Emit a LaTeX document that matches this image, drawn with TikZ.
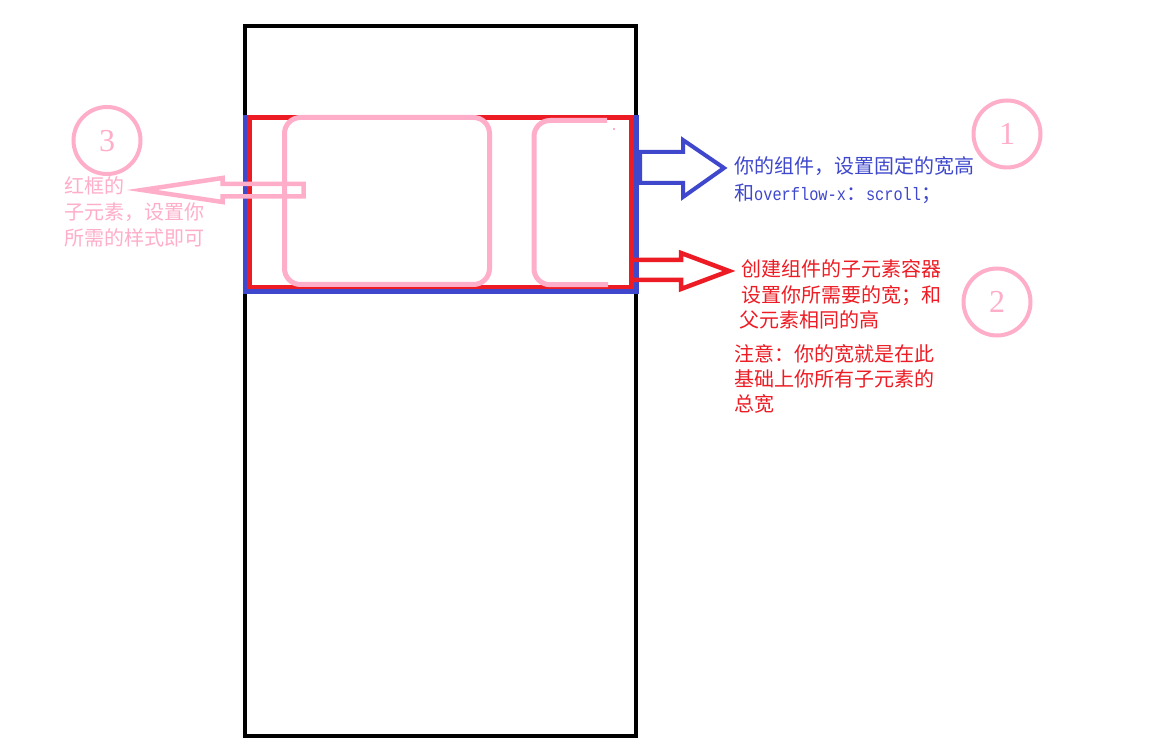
\documentclass[tikz,border=0pt]{standalone}
\usepackage{fontspec}
\newfontfamily\cjk{Noto Sans CJK SC}
\newfontfamily\monof[FakeStretch=0.85]{Liberation Mono}
\newfontfamily\numf{Liberation Serif}
\definecolor{pblue}{HTML}{3F48CC}
\definecolor{pred}{HTML}{ED1C24}
\definecolor{ppink}{HTML}{FFAEC9}
\tikzset{
  txt/.style={anchor=west, inner sep=0pt, font=\cjk\fontsize{20}{24}\selectfont, text height=17.6pt, text depth=2.4pt},
  numcirc/.style={circle, draw=ppink, line width=4pt, minimum size=67pt, inner sep=0pt, text=ppink,
    font=\numf\fontsize{32}{32}\selectfont, text height=21.6pt, text depth=0pt},
  pinkbox/.style={draw=ppink, line width=5pt, rounded corners=16pt},
}
\begin{document}
\begin{tikzpicture}[x=1pt,y=-1pt]
\useasboundingbox (0,0) rectangle (1163,751);
\fill[white] (0,0) rectangle (1163,751);
% screen
\draw[black, line width=4pt] (245,26) rectangle (636,736);
% component (blue) and child container (red)
\draw[pblue, line width=5pt] (245,117.5) rectangle (636,291.5);
\draw[pred, line width=4.5pt] (249.5,117.5) rectangle (631.5,287);
% child elements
\draw[pinkbox] (284.5,117.5) rectangle (489.5,284.5);
\draw[pinkbox] (607,120.5) -- (534,120.5) -- (534,284.7) -- (608,284.7);
\fill[ppink] (612.5,128) rectangle (614.5,130.5);
% arrows
\draw[pblue, line width=4pt, line join=miter] (640,152) -- (683,152) -- (683,140) -- (724,168) -- (683,197) -- (683,183) -- (640,183) -- cycle;
\draw[pred, line width=4.5pt, line join=miter] (632,260) -- (681,260) -- (681,253) -- (729,271) -- (681,289) -- (681,280) -- (632,280);
\draw[ppink, line width=4.5pt, line join=miter] (142,190) -- (222.5,178) -- (222.5,184) -- (303.5,184) -- (303.5,196.5) -- (222.5,196.5) -- (222.5,202) -- cycle;
% numbered circles
\node[numcirc] (c1) at (1007,134) {1};
\node[numcirc] (c2) at (997,302) {2};
\node[numcirc] (c3) at (107,140.5) {3};
% blue text
\node[txt, text=pblue] (b1) at (734,166) {你的组件，设置固定的宽高};
\node[txt, text=pblue] (b2) at (734,193) {和{\monof\fontsize{18}{20}\selectfont overflow-x}：{\monof\fontsize{18}{20}\selectfont scroll}；};
% red text
\node[txt, text=pred] (r1) at (741,268.5) {创建组件的子元素容器};
\node[txt, text=pred] (r2) at (741,295) {设置你所需要的宽；和};
\node[txt, text=pred] (r3) at (739.5,320) {父元素相同的高};
\node[txt, text=pred] (r4) at (734.5,353.5) {注意：你的宽就是在此};
\node[txt, text=pred] (r5) at (734.5,378.5) {基础上你所有子元素的};
\node[txt, text=pred] (r6) at (734.5,403.5) {总宽};
% pink text
\node[txt, text=ppink] (p1) at (64.5,186) {红框的};
\node[txt, text=ppink] (p2) at (64.5,212) {子元素，设置你};
\node[txt, text=ppink] (p3) at (64.5,237.5) {所需的样式即可};
\end{tikzpicture}
\end{document}
